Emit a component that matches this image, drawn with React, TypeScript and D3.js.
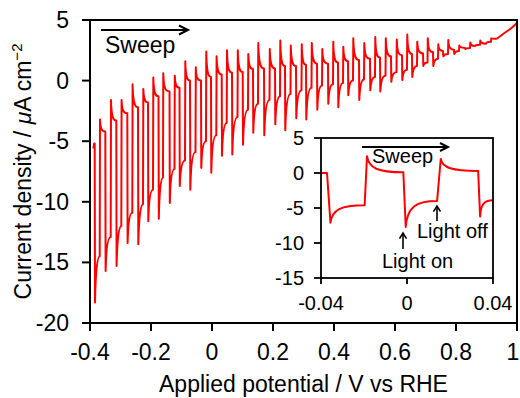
import React from 'react';
import * as d3 from 'd3';

// ---------- main chart data (per light-chopping cycle) ----------
const mainStartV = [-0.389, -0.3865];
const mainStartI = [-5.6, -5.2];
const mainOnV = [-0.3846, -0.3498, -0.3138, -0.2777, -0.2426, -0.2098, -0.1754, -0.1393, -0.1066, -0.0721,
  -0.0361, -0.0033, 0.0318, 0.0656, 0.1007, 0.1344, 0.1705, 0.2066, 0.2393, 0.2754,
  0.3082, 0.3443, 0.3803, 0.4131, 0.4459, 0.482, 0.518, 0.5508, 0.5869, 0.623,
  0.6557, 0.6918, 0.7246, 0.7574, 0.7934, 0.8295, 0.8623, 0.8984];
const mainOffV = [-0.3682, -0.3321, -0.2974, -0.2613, -0.2262, -0.1934, -0.1607, -0.123, -0.0885, -0.0541,
  -0.0197, 0.0141, 0.0482, 0.0836, 0.118, 0.1508, 0.1885, 0.223, 0.2574, 0.2934,
  0.3262, 0.3607, 0.3967, 0.4295, 0.4623, 0.4984, 0.5344, 0.5689, 0.6049, 0.6393,
  0.6721, 0.7066, 0.741, 0.7738, 0.8098, 0.8459, 0.8787, 0.9148];
const mainMin = [-18.3, -15.7, -15.3, -13.4, -13.5, -11.6, -11.4, -10.1, -8.7, -9.0,
  -7.2, -7.6, -6.2, -6.1, -5.3, -4.3, -4.5, -3.6, -4.1, -3.1,
  -3.2, -2.4, -1.9, -2.2, -1.2, -1.6, -0.8, -0.9, -0.1, 0.05,
  0.3, 1.2, 1.2, 2.0, 2.2, 2.6, 2.9, 3.1];
const mainPhoto = [-14.5, -12.9, -12.0, -10.9, -10.2, -9.0, -8.0, -7.3, -6.6, -5.9,
  -5.0, -4.5, -3.5, -3.0, -2.4, -1.9, -1.6, -1.3, -1.1, -0.8,
  -0.6, -0.4, -0.3, -0.2, 0.0, 0.1, 0.3, 0.4, 0.7, 0.9,
  1.2, 1.5, 1.8, 2.2, 2.45, 2.7, 2.95, 3.2];
const mainTop = [-3.2, -1.6, -1.6, -0.3, -0.7, 0.25, 0.6, 0.4, 1.6, 1.1,
  2.4, 2.0, 2.5, 2.5, 2.2, 3.1, 2.6, 3.3, 2.9, 3.0,
  3.1, 2.6, 3.2, 2.8, 3.5, 3.1, 3.6, 3.5, 3.4, 3.8,
  3.2, 3.5, 3.0, 3.35, 2.9, 3.15, 3.3, 3.5];
const mainDark = [-4.2, -3.3, -2.7, -2.2, -1.8, -1.3, -0.9, -0.6, 0.0, 0.0,
  0.3, 0.5, 0.65, 0.7, 0.95, 1.0, 1.0, 1.2, 1.2, 1.3,
  1.4, 1.4, 1.5, 1.6, 1.7, 1.8, 1.9, 2.0, 2.1, 2.2,
  2.25, 2.35, 2.45, 2.55, 2.7, 2.85, 3.05, 3.45];
const mainTailV = [0.934, 0.96, 0.98, 1.0];
const mainTailI = [3.45, 3.95, 4.3, 4.75];

// ---------- inset data ----------
const insetStartV = -0.04;
const insetStartI = 0;
const insetOnV = [-0.0372, -0.0017, 0.0331];
const insetMinV = [-0.0356, -0.0006, 0.034];
const insetMin = [-7.1, -7.7, -6.2];
const insetOffV = [-0.0197, 0.014];
const insetTopV = [-0.0186, 0.0157];
const insetPhoto = [-4.6, -4.0];
const insetTop = [2.4, 2.0];
const insetDark = [0.1, 0.3];
const insetEndV = 0.04;
const insetEndI = -3.9;

// ---------- ticks ----------
const mainXTicks = [-0.4, -0.2, 0, 0.2, 0.4, 0.6, 0.8, 1];
const mainYTicks = [5, 0, -5, -10, -15, -20];
const insetXTicks = [-0.04, 0, 0.04];
const insetYTicks = [5, 0, -5, -10, -15];

const FONT = '"Liberation Sans", Arial, Helvetica, sans-serif';
const RED = '#ff0000';

// relaxation curve (fast first, then levelling off) between two pixel points
function relax(p: d3.Path, x0: number, y0: number, x1: number, y1: number, a: number, c: number, b: number) {
  const w = x1 - x0;
  p.bezierCurveTo(x0 + a * w, y1 + (y0 - y1) * c, x0 + b * w, y1, x1, y1);
}

function fmt(v: number) {
  return String(+v.toFixed(2));
}

export default function App() {
  // main scales
  const x = d3.scaleLinear().domain([-0.4, 1]).range([90, 517]);
  const y = d3.scaleLinear().domain([-20, 5]).range([323, 20]);
  // inset scales
  const xi = d3.scaleLinear().domain([-0.04, 0.04]).range([321, 493]);
  const yi = d3.scaleLinear().domain([-15, 5]).range([278, 138]);

  // main path
  const p = d3.path();
  p.moveTo(x(mainStartV[0]), y(mainStartI[0]));
  p.lineTo(x(mainStartV[1]), y(mainStartI[1]));
  let prevDark = mainStartI[1];
  for (let i = 0; i < mainOnV.length; i++) {
    const xOn = x(mainOnV[i]);
    const xOff = x(mainOffV[i]);
    const xEnd = i < mainOnV.length - 1 ? x(mainOnV[i + 1]) : x(mainTailV[0]);
    p.lineTo(xOn, y(prevDark));
    p.lineTo(xOn + 0.3, y(mainMin[i]));
    relax(p, xOn + 0.3, y(mainMin[i]), xOff, y(mainPhoto[i]), 0.12, 0.3, 0.5);
    p.lineTo(xOff + 0.3, y(mainTop[i]));
    relax(p, xOff + 0.3, y(mainTop[i]), xEnd, y(mainDark[i]), 0.05, 0.25, 0.3);
    prevDark = mainDark[i];
  }
  const tail = d3.line<number>().x((v) => x(v)).y((_, j) => y(mainTailI[j])).curve(d3.curveMonotoneX);
  const tailPath = tail(mainTailV) || '';

  // inset path
  const q = d3.path();
  q.moveTo(xi(insetStartV), yi(insetStartI));
  let prev = insetStartI;
  for (let i = 0; i < insetOnV.length; i++) {
    q.lineTo(xi(insetOnV[i]), yi(prev));
    q.lineTo(xi(insetMinV[i]), yi(insetMin[i]));
    if (i < insetOffV.length) {
      relax(q, xi(insetMinV[i]), yi(insetMin[i]), xi(insetOffV[i]), yi(insetPhoto[i]), 0.05, 0.25, 0.3);
      q.lineTo(xi(insetTopV[i]), yi(insetTop[i]));
      relax(q, xi(insetTopV[i]), yi(insetTop[i]), xi(insetOnV[i + 1]), yi(insetDark[i]), 0.05, 0.25, 0.3);
      prev = insetDark[i];
    } else {
      relax(q, xi(insetMinV[i]), yi(insetMin[i]), xi(insetEndV), yi(insetEndI), 0.05, 0.25, 0.3);
    }
  }

  const arrowRight = (x0: number, x1: number, yy: number, h: number) => (
    <g stroke="#000" strokeWidth={2} fill="none">
      <line x1={x0} y1={yy} x2={x1} y2={yy} />
      <polyline points={`${x1 - h * 2},${yy - h} ${x1},${yy} ${x1 - h * 2},${yy + h}`} />
    </g>
  );
  const arrowUp = (xx: number, y0: number, y1: number, h: number) => (
    <g stroke="#000" strokeWidth={1.6} fill="none">
      <line x1={xx} y1={y0} x2={xx} y2={y1} />
      <polyline points={`${xx - h},${y1 + h * 1.6} ${xx},${y1} ${xx + h},${y1 + h * 1.6}`} />
    </g>
  );

  return (
    <svg width={520} height={398} viewBox="0 0 520 398"
      style={{ position: 'absolute', left: 0, top: 0, background: '#fff' }}
      fontFamily={FONT}>
      <rect x={0} y={0} width={520} height={398} fill="#fff" />
      {/* main data */}
      <path d={p.toString()} fill="none" stroke={RED} strokeWidth={2} strokeLinejoin="round" />
      <path d={tailPath} fill="none" stroke={RED} strokeWidth={2} />

      {/* main frame */}
      <g stroke="#000" strokeWidth={2} fill="none">
        <rect x={x(-0.4)} y={y(5)} width={x(1) - x(-0.4)} height={y(-20) - y(5)} />
        {mainXTicks.map((t) => (
          <line key={'mx' + t} x1={x(t)} x2={x(t)} y1={y(-20)} y2={y(-20) + 8} />
        ))}
        {mainYTicks.map((t) => (
          <line key={'my' + t} x1={x(-0.4) - 8} x2={x(-0.4)} y1={y(t)} y2={y(t)} />
        ))}
      </g>
      <g fontSize={23} fill="#000">
        {mainXTicks.map((t) => (
          <text key={'mxl' + t} x={Math.min(x(t), 513)} y={360} textAnchor="middle">{fmt(t)}</text>
        ))}
        {mainYTicks.map((t) => (
          <text key={'myl' + t} x={69} y={y(t)} dy="0.35em" textAnchor="end">{fmt(t)}</text>
        ))}
        <text x={(x(-0.4) + x(1)) / 2} y={392} textAnchor="middle">Applied potential / V vs RHE</text>
        <text transform={`translate(31,${(y(5) + y(-20)) / 2}) rotate(-90)`} textAnchor="middle">
          Current density / <tspan fontStyle="italic">μ</tspan>A cm<tspan dy={-9} fontSize={15}>−2</tspan>
        </text>
        <text x={105} y={53}>Sweep</text>
      </g>
      {arrowRight(101, 188, 30, 4.5)}

      {/* inset */}
      <rect x={xi(-0.04)} y={yi(5)} width={xi(0.04) - xi(-0.04)} height={yi(-15) - yi(5)} fill="#fff" />
      <defs>
        <clipPath id="insetClip">
          <rect x={xi(-0.04)} y={yi(5)} width={xi(0.04) - xi(-0.04)} height={yi(-15) - yi(5)} />
        </clipPath>
      </defs>
      <path d={q.toString()} fill="none" stroke={RED} strokeWidth={2} strokeLinejoin="round" clipPath="url(#insetClip)" />
      <g stroke="#000" strokeWidth={1.8} fill="none">
        <rect x={xi(-0.04)} y={yi(5)} width={xi(0.04) - xi(-0.04)} height={yi(-15) - yi(5)} />
        {insetXTicks.map((t) => (
          <line key={'ix' + t} x1={xi(t)} x2={xi(t)} y1={yi(-15)} y2={yi(-15) + 6} />
        ))}
        {insetYTicks.map((t) => (
          <line key={'iy' + t} x1={xi(-0.04) - 7} x2={xi(-0.04)} y1={yi(t)} y2={yi(t)} />
        ))}
      </g>
      <g fontSize={20} fill="#000">
        {insetXTicks.map((t) => (
          <text key={'ixl' + t} x={xi(t)} y={310} textAnchor="middle">{fmt(t)}</text>
        ))}
        {insetYTicks.map((t) => (
          <text key={'iyl' + t} x={304} y={yi(t)} dy="0.35em" textAnchor="end">{fmt(t)}</text>
        ))}
        <text x={372} y={163}>Sweep</text>
        <text x={382} y={268}>Light on</text>
        <text x={417} y={238}>Light off</text>
      </g>
      {arrowRight(362, 448, 147, 4)}
      {arrowUp(403, 249, 233, 3.5)}
      {arrowUp(437, 221, 206, 3.5)}
    </svg>
  );
}
